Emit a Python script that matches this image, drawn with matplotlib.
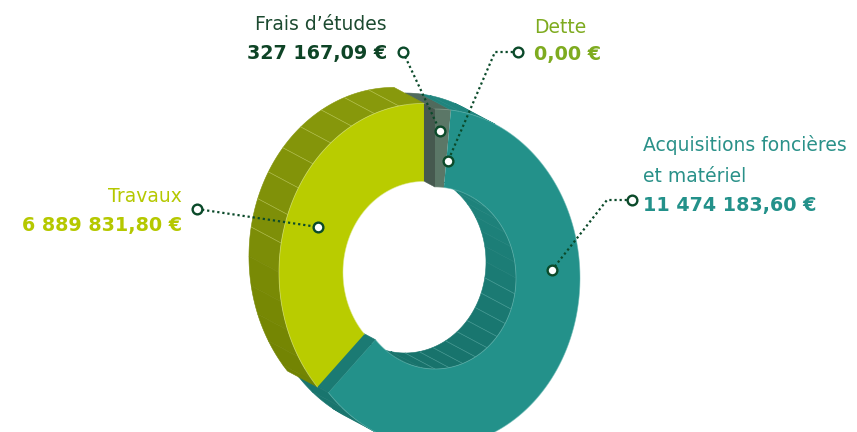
import numpy as np
import matplotlib
matplotlib.use("Agg")
import matplotlib.pyplot as plt
from matplotlib.patches import Polygon
from matplotlib.colors import to_rgb

# ---- data (clockwise from 12 o'clock) ----
names = ["Frais d’études", "Dette", "Acquisitions foncières\net matériel", "Travaux"]
amounts = [327167.09, 0.00, 11474183.60, 6889831.80]
amount_labels = ["327 167,09 €", "0,00 €", "11 474 183,60 €", "6 889 831,80 €"]

face_col = ["#5b7767", "#84b01e", "#23918a", "#b9cc00"]
cut_col = ["#46594f", "#6a8f18", "#1b7a73", "#7b8b04"]
wall_light = ["#506a5c", "#74a01a", "#1f857e", "#88990c"]
wall_dark = ["#42564c", "#5f8a14", "#18736c", "#6d7e00"]
edge_col = ["#8fa598", "#b5d36a", "#6cbab4", "#dde88a"]
name_col = ["#1c4a30", "#7eab1f", "#2a9189", "#b5c800"]
amount_col = ["#0e4426", "#7eab1f", "#23918a", "#b5c800"]
explode = [0, 0, 0, 14]

# ---- geometry of the pseudo-3D ring (pixel coords) ----
CX, CY = 435, 278
OUT = (145, 169)      # outer ring radii (x, y)
INN = (81, 91)        # inner ring radii (x, y)
D = np.array([-30.0, -16.0])   # screen offset of the back face
FACET = 10
GLINT = 128           # facet seams show where the wall faces this way
DARK = "#0b4a2a"


def pt(c, ring, a):
    a = np.radians(a)
    return np.column_stack([c[0] + ring[0] * np.cos(a), c[1] - ring[1] * np.sin(a)])


def mix(c1, c2, t):
    a, b = np.array(to_rgb(c1)), np.array(to_rgb(c2))
    return tuple(a * (1 - t) + b * t)


def arc(c, ring, lo, hi):
    n = max(2, int(abs(hi - lo) / 0.5) + 2)
    return pt(c, ring, np.linspace(lo, hi, n))


def overlap(lo, hi, vlo, vhi):
    out = []
    for k in (-2, -1, 0, 1):
        a, b = max(lo, vlo + 360 * k), min(hi, vhi + 360 * k)
        if b > a:
            out.append((a, b))
    return out


def outer_visible_from(ring):
    """Start angle of the half of the ring whose outer wall faces the viewer."""
    f = lambda a: D[0] * ring[1] * np.cos(a) - D[1] * ring[0] * np.sin(a)
    v = np.arctan2(D[0] * ring[1], D[1] * ring[0])
    if f(v + np.pi / 2) < 0:
        v += np.pi
    return np.degrees(v) % 360


fig = plt.figure(figsize=(8.57, 4.32), dpi=100)
ax = fig.add_axes([0, 0, 1, 1])
ax.set_xlim(0, 857)
ax.set_ylim(432, 0)
ax.axis("off")

total = sum(amounts)
spans = [360 * v / total for v in amounts]
segs = []
a0 = 90.0
for i, s in enumerate(spans):
    a1 = a0 - s
    mid = np.radians((a0 + a1) / 2)
    c = (CX + explode[i] * 0.86 * np.cos(mid), CY - explode[i] * np.sin(mid))
    segs.append(dict(i=i, hi=a0, lo=a1, c=c))
    a0 = a1
live = [s for s in segs if s["hi"] - s["lo"] > 0.01]


def wall(seg, ring, vlo, vhi, z, flip):
    i, c = seg["i"], seg["c"]
    for lo, hi in overlap(seg["lo"], seg["hi"], vlo, vhi):
        cuts = [lo] + [g for g in np.arange(np.ceil(lo / FACET) * FACET, hi, FACET)
                       if g > lo + 0.2] + [hi]
        for f0, f1 in zip(cuts[:-1], cuts[1:]):
            t = (np.sin(np.radians((f0 + f1) / 2)) + 1) / 2
            col = mix(wall_dark[i], wall_light[i], t)
            front = arc(c, ring, f0, f1)
            poly = np.vstack([front, front[::-1] + D])
            ax.add_patch(Polygon(poly, closed=True, fc=col, ec=col, lw=0.4, zorder=z))
        for g in cuts[1:-1]:
            if np.cos(np.radians(g + flip - GLINT)) < 0.7:
                continue
            p = pt(c, ring, g)[0]
            ax.plot([p[0], p[0] + D[0]], [p[1], p[1] + D[1]], color=edge_col[i],
                    lw=0.5, alpha=0.5, zorder=z + 0.1)


# cut faces where a neighbouring piece is pulled away
for k, s in enumerate(live):
    for end, nb in (("hi", live[k - 1]), ("lo", live[(k + 1) % len(live)])):
        if explode[s["i"]] == explode[nb["i"]]:
            continue
        p_in, p_out = pt(s["c"], INN, s[end])[0], pt(s["c"], OUT, s[end])[0]
        e = p_out - p_in
        n = np.array([e[1], -e[0]])
        a = np.radians(s[end])
        tang = np.array([-OUT[0] * np.sin(a), -OUT[1] * np.cos(a)])
        if end == "lo":
            tang = -tang
        if n @ tang < 0:
            n = -n
        if n @ D <= 0:
            continue
        poly = np.array([p_in, p_out, p_out + D, p_in + D])
        ax.add_patch(Polygon(poly, closed=True, fc=cut_col[s["i"]], ec=cut_col[s["i"]],
                             lw=0.4, zorder=1))

# outer and inner walls
vo, vi = outer_visible_from(OUT), outer_visible_from(INN)
for s in live:
    wall(s, OUT, vo, vo + 180, 2, 0)
    wall(s, INN, vi + 180, vi + 360, 2, 180)

# front faces
for s in live:
    i, c = s["i"], s["c"]
    poly = np.vstack([arc(c, OUT, s["hi"], s["lo"]), arc(c, INN, s["lo"], s["hi"])])
    ax.add_patch(Polygon(poly, closed=True, fc=face_col[i], ec="none", zorder=3))
    for ring in (OUT, INN):
        ln = arc(c, ring, s["lo"], s["hi"])
        ax.plot(ln[:, 0], ln[:, 1], color=edge_col[i], lw=0.6, alpha=0.6, zorder=3.1)

# ---- leaders and labels ----
leaders = [
    [(403, 52), (440, 131)],
    [(518, 52), (495, 52), (448, 161)],
    [(632, 200), (607, 200), (552, 270)],
    [(197, 209), (318, 227)],
]
for path in leaders:
    xs, ys = zip(*path)
    ax.plot(xs, ys, color=DARK, lw=1.6, ls=(0, (1, 1.3)), zorder=5)
    for x, y in (path[0], path[-1]):
        ax.plot(x, y, "o", ms=7, mfc="white", mec=DARK, mew=1.7, zorder=6)

FONT = ["DejaVu Sans"]
# (x, name baseline, amount baseline, alignment)
spots = [(387, 30, 59, "right"), (534, 33, 60, "left"),
         (643, 151, 211, "left"), (182, 202, 231, "right")]
for i, (x, yn, ya, ha) in enumerate(spots):
    lines = names[i].split("\n")
    for j, line in enumerate(lines):
        ax.text(x, yn + j * 31, line, ha=ha, va="baseline",
                fontsize=13.5, color=name_col[i], family=FONT, zorder=7)
    ax.text(x, ya, amount_labels[i], ha=ha, va="baseline", fontsize=13.8,
            fontweight="bold", color=amount_col[i], family=FONT, zorder=7)

fig.savefig("out.png", dpi=100)
